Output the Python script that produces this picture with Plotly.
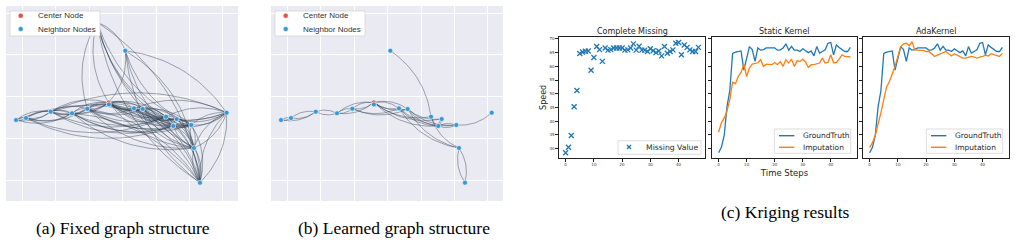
import numpy as np
import plotly.graph_objects as go

W, H = 1016, 242

# ---------------- graph data (same node layout in panels a and b) ----------------
node_x = [3.084, -0.179, 0.119, 0.857, 1.493, 1.949, 2.588, 3.343, 3.603, 4.299,
          4.618, 4.516, 5.054, 6.110, 5.134, 5.313, 2.239, 2.594]
node_y = [3.097, 1.437, 1.485, 1.636, 1.598, 1.708, 1.856, 1.717, 1.701, 1.516,
          1.461, 1.293, 1.317, 1.612, 0.766, -0.065, 3.784, 1.810]
center_node = 6
neighbor_nodes = [i for i in range(len(node_x)) if i != center_node]

fixed_edges = [
    (1, 2), (2, 1), (1, 3), (3, 1), (1, 4), (2, 3), (3, 2), (2, 4), (4, 2), (2, 5),
    (3, 4), (4, 3), (3, 5), (5, 3), (3, 6), (6, 3), (4, 5), (5, 4), (4, 6), (6, 4),
    (5, 6), (6, 5), (17, 5), (5, 7), (7, 5), (5, 8), (6, 7), (7, 6), (6, 8), (8, 6),
    (7, 8), (8, 7), (17, 7), (17, 8),
    (6, 9), (9, 6), (6, 10), (6, 11), (11, 6), (6, 12), (7, 9), (7, 10), (10, 7), (7, 11),
    (7, 12), (8, 9), (9, 8), (8, 10), (8, 11), (11, 8), (8, 12), (12, 8), (9, 10), (10, 9),
    (9, 11), (11, 9), (10, 11), (11, 12), (12, 11), (10, 12), (12, 10), (9, 12),
    (3, 9), (3, 11), (11, 3), (4, 9), (4, 11), (5, 9), (5, 11), (5, 12), (4, 12), (2, 11),
    (11, 1), (2, 9),
    (12, 13), (13, 12), (10, 13), (13, 9), (8, 13), (13, 7), (6, 13), (13, 3), (11, 13),
    (14, 9), (14, 10), (14, 11), (11, 14), (14, 12), (12, 14), (13, 14), (14, 13), (8, 14),
    (7, 14), (6, 14), (5, 14), (4, 14),
    (15, 14), (14, 15), (15, 13), (13, 15), (15, 12), (15, 11), (15, 10), (15, 9), (15, 8),
    (15, 7), (15, 6), (15, 5), (15, 4),
    (0, 14), (14, 0), (0, 15), (13, 0), (0, 12), (6, 0), (0, 16),
    (16, 6), (16, 5), (16, 9), (16, 11), (16, 12), (16, 14), (15, 16), (16, 15),
]

learned_edges = [
    (1, 2), (2, 1), (2, 3), (3, 2), (1, 3), (3, 4), (4, 3), (4, 5), (5, 4), (4, 6),
    (6, 4), (5, 6), (6, 5), (5, 7), (5, 8), (6, 7), (7, 6), (6, 8), (8, 6), (7, 8),
    (6, 9), (6, 10), (6, 11), (7, 11), (7, 12), (8, 11), (8, 10), (8, 12), (9, 11),
    (10, 11), (11, 12), (12, 11), (12, 13), (9, 0), (9, 14), (7, 14), (8, 14),
    (14, 15), (15, 14), (11, 10),
]

# ---------------- kriging data ----------------
time_steps = list(range(48))
ground_truth = [28.5, 30.5, 34.8, 45.3, 51.2, 64.7, 65.2, 65.5, 65.6, 58.6,
                63.2, 67.2, 66.1, 61.8, 66.7, 65.9, 66.1, 66.7, 66.7, 66.7,
                66.7, 65.9, 66.0, 66.7, 68.2, 65.9, 67.3, 65.9, 65.9, 65.4,
                66.4, 65.7, 65.0, 65.6, 63.8, 67.2, 64.8, 65.4, 66.0, 68.4,
                68.7, 64.2, 67.8, 66.9, 66.0, 65.4, 65.4, 66.9]
static_imputation = [36.0, 39.4, 41.2, 43.7, 47.9, 54.2, 53.7, 56.3, 57.8, 60.8,
                     56.3, 59.4, 60.8, 61.0, 61.3, 62.4, 60.0, 60.8, 60.8, 60.6,
                     61.4, 60.6, 61.7, 60.0, 62.4, 61.2, 62.6, 60.0, 62.0, 61.8,
                     62.6, 61.6, 59.6, 60.6, 60.6, 60.8, 61.2, 63.0, 61.2, 61.4,
                     64.2, 61.2, 61.4, 62.6, 64.2, 63.6, 63.6, 63.4]
ada_imputation = [30.4, 32.2, 34.8, 38.5, 43.1, 47.9, 52.5, 54.5, 57.3, 60.0,
                  63.6, 67.2, 68.2, 68.4, 67.5, 69.0, 66.0, 65.8, 65.8, 65.8,
                  65.4, 65.4, 64.6, 63.6, 64.1, 64.6, 65.0, 65.4, 64.6, 63.8,
                  64.6, 64.1, 63.6, 63.0, 63.0, 63.4, 63.6, 63.4, 63.0, 63.4,
                  63.6, 64.1, 63.8, 64.6, 64.2, 63.8, 63.6, 64.8]
x_ticks = [0, 10, 20, 30, 40]
y_ticks = [30, 35, 40, 45, 50, 55, 60, 65, 70]

BLUE, ORANGE = "#1f77b4", "#ff7f0e"
NODE_BLUE, NODE_RED = "#3498db", "#e74c3c"
EDGE_COLOR = "rgba(44,62,80,0.55)"

SX, SY = 33.5, 41.75   # pixel size of a grid unit, for arc geometry
RAD = 0.22


def arc(i, j, n=24):
    x0, y0 = node_x[i] * SX, node_y[i] * SY
    x2, y2 = node_x[j] * SX, node_y[j] * SY
    dx, dy = x2 - x0, y2 - y0
    cx, cy = (x0 + x2) / 2 + RAD * dy, (y0 + y2) / 2 - RAD * dx
    t = np.linspace(0, 1, n)
    bx = (1 - t) ** 2 * x0 + 2 * (1 - t) * t * cx + t ** 2 * x2
    by = (1 - t) ** 2 * y0 + 2 * (1 - t) * t * cy + t ** 2 * y2
    return bx / SX, by / SY


fig = go.Figure()

for edges, xa, ya in [(fixed_edges, "x", "y"), (learned_edges, "x2", "y2")]:
    for (i, j) in edges:
        ax_, ay_ = arc(i, j)
        fig.add_trace(go.Scatter(x=ax_, y=ay_, mode="lines", xaxis=xa, yaxis=ya,
                                 line=dict(color=EDGE_COLOR, width=0.8),
                                 hoverinfo="skip", showlegend=False))
    fig.add_trace(go.Scatter(x=[node_x[center_node]], y=[node_y[center_node]], mode="markers",
                             xaxis=xa, yaxis=ya, name="Center Node", showlegend=False,
                             marker=dict(color=NODE_RED, size=5, line=dict(color="white", width=0.6))))
    fig.add_trace(go.Scatter(x=[node_x[k] for k in neighbor_nodes], y=[node_y[k] for k in neighbor_nodes],
                             mode="markers", xaxis=xa, yaxis=ya, name="Neighbor Nodes", showlegend=False,
                             marker=dict(color=NODE_BLUE, size=5, line=dict(color="white", width=0.6))))

# Kriging panels
fig.add_trace(go.Scatter(x=time_steps, y=ground_truth, mode="markers", name="Missing Value",
                         xaxis="x3", yaxis="y3", showlegend=False,
                         marker=dict(symbol="x-thin", size=5, line=dict(color=BLUE, width=1.3))))
for xa, ya, imp in [("x4", "y4", static_imputation), ("x5", "y5", ada_imputation)]:
    fig.add_trace(go.Scatter(x=time_steps, y=ground_truth, mode="lines", name="GroundTruth",
                             xaxis=xa, yaxis=ya, showlegend=False, line=dict(color=BLUE, width=1.3)))
    fig.add_trace(go.Scatter(x=time_steps, y=imp, mode="lines", name="Imputation",
                             xaxis=xa, yaxis=ya, showlegend=False, line=dict(color=ORANGE, width=1.3)))


def px(x):
    return x / W


def py(y):
    return 1 - y / H


graph_y_dom = [py(201), py(6)]
graph_axis = dict(showgrid=True, gridcolor="white", gridwidth=1.4, dtick=1, tick0=0,
                  showticklabels=False, zeroline=False, showline=False, ticks="")
kr_axis = dict(showgrid=False, zeroline=False, showline=True, mirror=True, linecolor="#222",
               linewidth=1.2, ticks="outside", ticklen=2.5, tickwidth=0.8, tickcolor="#222",
               tickfont=dict(size=4, color="#333", family="DejaVu Sans"))
kr_y_dom = [py(158), py(36.7)]

layout = dict(
    width=W, height=H, margin=dict(l=0, r=0, t=0, b=0),
    paper_bgcolor="white", plot_bgcolor="white", showlegend=False,
    font=dict(family="DejaVu Sans", color="#262626"),
    xaxis=dict(domain=[px(6), px(238)], range=[-0.478, 6.448], anchor="y", **graph_axis),
    yaxis=dict(domain=graph_y_dom, range=[-0.503, 4.168], anchor="x", **graph_axis),
    xaxis2=dict(domain=[px(271), px(503)], range=[-0.478, 6.448], anchor="y2", **graph_axis),
    yaxis2=dict(domain=graph_y_dom, range=[-0.503, 4.168], anchor="x2", **graph_axis),
    xaxis3=dict(domain=[px(559), px(705)], range=[-2.35, 49.35], tickvals=x_ticks, anchor="y3", **kr_axis),
    yaxis3=dict(domain=kr_y_dom, range=[26.6, 70.8], tickvals=y_ticks, anchor="x3",
                title=dict(text="Speed", font=dict(size=8), standoff=1), **kr_axis),
    xaxis4=dict(domain=[px(712), px(857)], range=[-2.35, 49.35], tickvals=x_ticks, anchor="y4",
                title=dict(text="Time Steps", font=dict(size=8.5), standoff=3), **kr_axis),
    yaxis4=dict(domain=kr_y_dom, range=[26.6, 70.8], tickvals=y_ticks, anchor="x4",
                showticklabels=False, **{k: v for k, v in kr_axis.items() if k != "tickfont"}),
    xaxis5=dict(domain=[px(863), px(1009)], range=[-2.35, 49.35], tickvals=x_ticks, anchor="y5", **kr_axis),
    yaxis5=dict(domain=kr_y_dom, range=[26.6, 70.8], tickvals=y_ticks, anchor="x5",
                showticklabels=False, **{k: v for k, v in kr_axis.items() if k != "tickfont"}),
)
fig.update_layout(**layout)

shapes = []
annotations = []
# graph panel backgrounds
for xr, yr in [("x domain", "y domain"), ("x2 domain", "y2 domain")]:
    shapes.append(dict(type="rect", xref=xr, yref=yr, x0=0, x1=1, y0=0, y1=1,
                       fillcolor="#EAEAF2", line=dict(width=0), layer="below"))

# graph legends
for x_off in [0, 265]:
    shapes.append(dict(type="rect", xref="paper", yref="paper", x0=px(10 + x_off), x1=px(100 + x_off),
                       y0=py(36), y1=py(11), fillcolor="white", line=dict(color="#d4d4d4", width=0.8)))
    for yy, col, label in [(15.7, NODE_RED, "Center Node"), (29, NODE_BLUE, "Neighbor Nodes")]:
        shapes.append(dict(type="circle", xref="paper", yref="paper",
                           x0=px(18.2 + x_off), x1=px(23.2 + x_off), y0=py(yy + 2.5), y1=py(yy - 2.5),
                           fillcolor=col, line=dict(color="white", width=0.5)))
        annotations.append(dict(xref="paper", yref="paper", x=px(35.5 + x_off), y=py(yy), text=label,
                                showarrow=False, xanchor="left", yanchor="middle",
                                font=dict(family="Liberation Sans", size=8, color="#333")))

# kriging legends
shapes.append(dict(type="rect", xref="paper", yref="paper", x0=px(618), x1=px(701), y0=py(154.3), y1=py(140.7),
                   fillcolor="white", line=dict(color="#d4d4d4", width=0.8)))
for (a0, b0, a1, b1) in [(627, 145, 631, 149), (627, 149, 631, 145)]:
    shapes.append(dict(type="line", xref="paper", yref="paper", x0=px(a0), y0=py(b0), x1=px(a1), y1=py(b1),
                       line=dict(color=BLUE, width=1.3)))
annotations.append(dict(xref="paper", yref="paper", x=px(643.5), y=py(147.3), text="Missing Value",
                        showarrow=False, xanchor="left", yanchor="middle",
                        font=dict(family="DejaVu Sans", size=7.7, color="#262626")))
for left in [774.3, 926.3]:
    shapes.append(dict(type="rect", xref="paper", yref="paper", x0=px(left), x1=px(left + 76.4),
                       y0=py(153.3), y1=py(129), fillcolor="white", line=dict(color="#d4d4d4", width=0.8)))
    for yy, col, label in [(135.7, BLUE, "GroundTruth"), (147.3, ORANGE, "Imputation")]:
        shapes.append(dict(type="line", xref="paper", yref="paper", x0=px(left + 4.7), x1=px(left + 20),
                           y0=py(yy), y1=py(yy), line=dict(color=col, width=1.4)))
        annotations.append(dict(xref="paper", yref="paper", x=px(left + 26.7), y=py(yy), text=label,
                                showarrow=False, xanchor="left", yanchor="middle",
                                font=dict(family="DejaVu Sans", size=7.5, color="#262626")))

# subplot titles
for (l, r), title in [((559, 705), "Complete Missing"), ((712, 857), "Static Kernel"), ((863, 1009), "AdaKernel")]:
    annotations.append(dict(xref="paper", yref="paper", x=px((l + r) / 2), y=py(31.5), text=title,
                            showarrow=False, xanchor="center", yanchor="middle",
                            font=dict(family="DejaVu Sans", size=8, color="#262626")))

# captions
for xc, yc, text in [(123, 228, "(a) Fixed graph structure"), (394, 228, "(b) Learned graph structure"),
                     (785, 212, "(c) Kriging results")]:
    annotations.append(dict(xref="paper", yref="paper", x=px(xc), y=py(yc), text=text,
                            showarrow=False, xanchor="center", yanchor="middle",
                            font=dict(family="Liberation Serif", size=17.5, color="black")))

fig.update_layout(shapes=shapes, annotations=annotations)
fig.write_html("out.html")
